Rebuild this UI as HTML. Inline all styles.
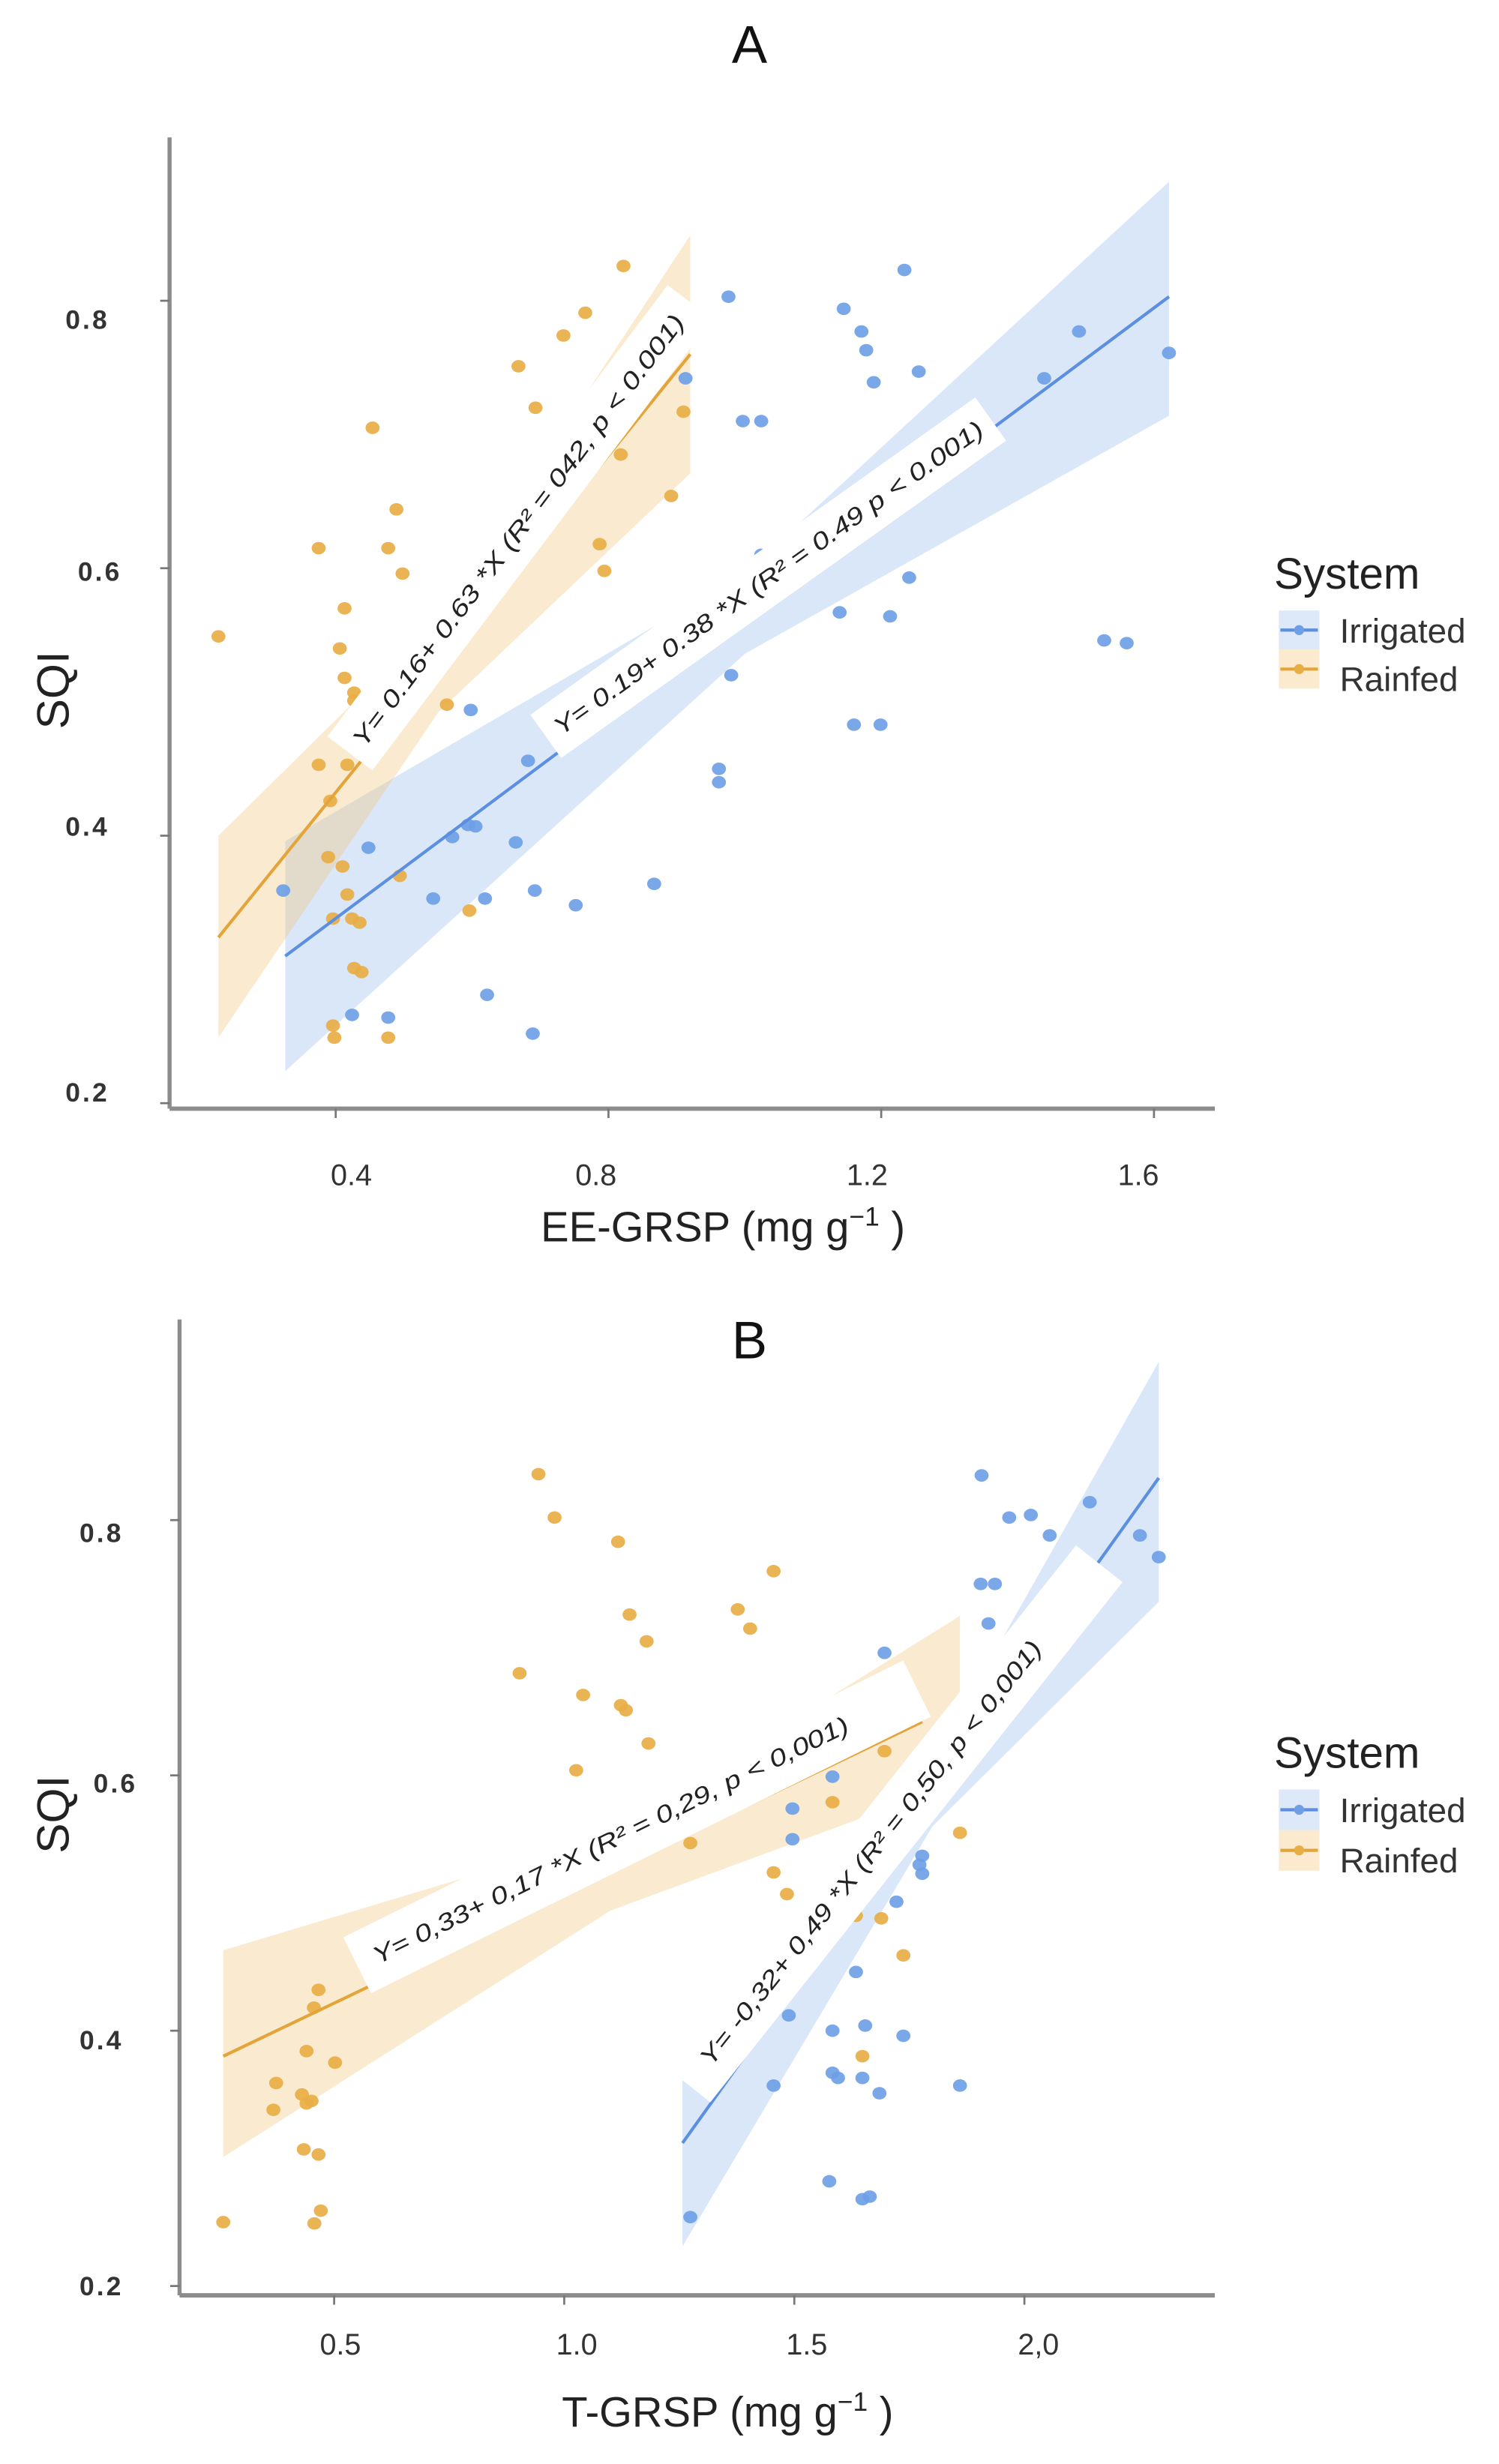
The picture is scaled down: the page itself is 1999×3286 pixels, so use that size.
<!DOCTYPE html>
<html><head><meta charset="utf-8">
<style>
html,body{margin:0;padding:0;background:#fff;}
svg{display:block;}
text{font-family:"Liberation Sans",sans-serif;}
.tick{font-size:17px;font-weight:bold;fill:#333;letter-spacing:1.5px;}
.xtick{font-size:19px;fill:#333;}
.eq{font-size:15.5px;font-style:italic;fill:#222;}
</style></head>
<body>
<svg id="chart" width="1999" height="3286" viewBox="0 0 960 1578" preserveAspectRatio="none" xmlns="http://www.w3.org/2000/svg">
</svg>
<script>
// ---------- Panel A data (EE-GRSP vs SQI) ----------
var aXTicks = [0.4, 0.8, 1.2, 1.6];
var aXTickLabels = ["0.4", "0.8", "1.2", "1.6"];
var aYTicks = [0.8, 0.6, 0.4, 0.2];
var aYTickLabels = ["0.8", "0.6", "0.4", "0.2"];
var aRainX = [0.228,0.375,0.413,0.406,0.413,0.427,0.427,0.420,0.375,0.417,0.392,0.454,0.489,0.477,0.498,0.563,0.668,0.693,0.734,0.766,0.822,0.787,0.794,0.892,0.910,0.818,0.410,0.417,0.424,0.435,0.427,0.438,0.396,0.398,0.477,0.396,0.596,0.494,0.389];
var aRainY = [0.549,0.615,0.570,0.540,0.518,0.507,0.501,0.482,0.453,0.453,0.426,0.705,0.644,0.615,0.596,0.498,0.751,0.720,0.774,0.791,0.826,0.618,0.598,0.654,0.717,0.685,0.377,0.356,0.338,0.335,0.301,0.298,0.258,0.249,0.249,0.338,0.344,0.370,0.384];
var aIrrX = [0.323,0.448,0.424,0.477,0.543,0.571,0.598,0.594,0.605,0.619,0.622,0.664,0.682,0.692,0.689,0.752,0.867,0.913,0.913,0.976,0.997,1.024,1.024,0.980,0.962,0.962,1.139,1.145,1.171,1.178,1.189,1.234,1.255,1.241,1.213,1.160,1.199,1.439,1.490,1.622,1.527,1.560];
var aIrrY = [0.359,0.391,0.266,0.264,0.353,0.399,0.494,0.408,0.407,0.353,0.281,0.395,0.456,0.359,0.252,0.348,0.364,0.791,0.742,0.803,0.710,0.710,0.610,0.520,0.450,0.440,0.567,0.794,0.777,0.763,0.739,0.823,0.747,0.593,0.564,0.483,0.483,0.742,0.777,0.761,0.546,0.544];
var aRainFitX = [0.228, 0.92];
var aRainFitY = [0.324, 0.760];
var aRainBandX = [0.228, 0.55, 0.92];
var aRainBandLo = [0.249, 0.492, 0.671];
var aRainBandHi = [0.400, 0.562, 0.849];
var aIrrFitX = [0.326, 1.622];
var aIrrFitY = [0.310, 0.803];
var aIrrBandX = [0.326, 1.0, 1.622];
var aIrrBandLo = [0.224, 0.536, 0.714];
var aIrrBandHi = [0.396, 0.596, 0.889];

// ---------- Panel B data (T-GRSP vs SQI) ----------
var bXTicks = [0.5, 1.0, 1.5, 2.0];
var bXTickLabels = ["0.5", "1.0", "1.5", "2,0"];
var bYTicks = [0.8, 0.6, 0.4, 0.2];
var bYTickLabels = ["0.8", "0.6", "0.4", "0.2"];
var bRainX = [0.259,0.374,0.368,0.440,0.466,0.456,0.502,0.430,0.451,0.440,0.434,0.466,0.471,0.457,0.944,0.979,0.903,1.026,1.041,1.117,1.123,1.134,1.142,1.179,1.183,1.377,1.404,1.455,1.274,1.455,1.484,1.583,1.696,1.634,1.689,1.737,1.648,1.860];
var bRainY = [0.250,0.359,0.338,0.384,0.432,0.418,0.375,0.350,0.345,0.343,0.307,0.303,0.259,0.249,0.836,0.802,0.680,0.604,0.663,0.783,0.655,0.651,0.726,0.705,0.625,0.730,0.715,0.760,0.547,0.524,0.507,0.579,0.619,0.490,0.488,0.459,0.380,0.555];
var bIrrX = [1.274,1.455,1.488,1.496,1.496,1.583,1.583,1.583,1.595,1.576,1.634,1.648,1.664,1.654,1.648,1.685,1.722,1.737,1.696,1.751,1.772,1.778,1.778,1.860,1.907,1.905,1.936,1.922,1.967,2.014,2.055,2.142,2.158,2.251,2.292];
var bIrrY = [0.254,0.357,0.412,0.574,0.550,0.599,0.400,0.367,0.363,0.282,0.446,0.268,0.270,0.404,0.363,0.351,0.501,0.396,0.696,0.552,0.530,0.523,0.537,0.357,0.835,0.750,0.750,0.719,0.802,0.804,0.788,0.814,0.749,0.788,0.771];
var bRainFitX = [0.259, 1.778];
var bRainFitY = [0.380, 0.642];
var bRainBandX = [0.259, 1.1, 1.86];
var bRainBandLo = [0.301, 0.494, 0.595];
var bRainBandHi = [0.463, 0.554, 0.725];
var bIrrFitX = [1.257, 2.292];
var bIrrFitY = [0.312, 0.833];
var bIrrBandX = [1.257, 1.8, 2.292];
var bIrrBandLo = [0.231, 0.560, 0.736];
var bIrrBandHi = [0.390, 0.610, 0.924];

var NS = "http://www.w3.org/2000/svg";
var svg = document.getElementById("chart");
function mk(tag, attrs, parent) {
  var e = document.createElementNS(NS, tag);
  for (var k in attrs) e.setAttribute(k, attrs[k]);
  (parent || svg).appendChild(e);
  return e;
}
var ORANGE = "#E8AE45", BLUE = "#6E9FE6";
var ORANGE_LINE = "#E3A53A", BLUE_LINE = "#5C8FE0";
var ORANGE_BAND = "rgba(242,200,130,0.38)", BLUE_BAND = "rgba(160,195,240,0.40)";

function drawPanel(p) {
  var g = mk("g", {});
  
  
  function sx(v) { return p.x0 + (v - p.xv0) * p.xk; }
  function sy(v) { return p.y0 - (v - p.yv0) * p.yk; }
  function band(bx, lo, hi, fill, nm) {
    var pts = [];
    for (var i = 0; i < bx.length; i++) pts.push(sx(bx[i]) + "," + sy(hi[i]));
    for (var j = bx.length - 1; j >= 0; j--) pts.push(sx(bx[j]) + "," + sy(lo[j]));
    var e = mk("polygon", { points: pts.join(" "), fill: fill }, g);
    
    
  }
  band(p.irrBandX, p.irrBandLo, p.irrBandHi, BLUE_BAND, "irrigated-confidence-band");
  band(p.rainBandX, p.rainBandLo, p.rainBandHi, ORANGE_BAND, "rainfed-confidence-band");
  function pts(xs, ys, col, nm) {
    for (var i = 0; i < xs.length; i++) {
      var c = mk("ellipse", { cx: sx(xs[i]), cy: sy(ys[i]), rx: 4.5, ry: 4, fill: col, opacity: 0.92 }, g);
      
      
    }
  }
  pts(p.rainX, p.rainY, ORANGE, "rainfed-point");
  pts(p.irrX, p.irrY, BLUE, "irrigated-point");
  function fit(fx, fy, col, nm) {
    var l = mk("line", { x1: sx(fx[0]), y1: sy(fy[0]), x2: sx(fx[1]), y2: sy(fy[1]), stroke: col, "stroke-width": 2 }, g);
    
    
  }
  fit(p.rainFitX, p.rainFitY, ORANGE_LINE, "rainfed-regression-line");
  fit(p.irrFitX, p.irrFitY, BLUE_LINE, "irrigated-regression-line");
  p.labels.forEach(function (L) {
    var lg = mk("g", { transform: "translate(" + L.cx + "," + L.cy + ") rotate(" + L.ang + ")" }, g);
    
    
    mk("rect", { x: -L.len / 2, y: -L.h / 2, width: L.len, height: L.h, fill: "#fff" }, lg);
    var t = mk("text", { x: -L.len / 2 + L.pad, y: 5.5, "class": "eq", textLength: L.tl, lengthAdjust: "spacingAndGlyphs" }, lg);
    t.textContent = L.text;
  });
  var ax = mk("line", { x1: p.x0axis, y1: p.top, x2: p.x0axis, y2: p.yaxis, stroke: "#8c8c8c", "stroke-width": 2.6 }, g);
  
  
  var axx = mk("line", { x1: p.x0axis, y1: p.yaxis, x2: p.right, y2: p.yaxis, stroke: "#8c8c8c", "stroke-width": 2.8 }, g);
  
  
  for (var i = 0; i < p.xTicks.length; i++) {
    var xx = sx(p.xTicks[i]);
    mk("line", { x1: xx, y1: p.yaxis, x2: xx, y2: p.yaxis + 6, stroke: "#777", "stroke-width": 1.3 }, g);
    var t = mk("text", { x: xx + p.xLabOff[i], y: p.xLabY, "text-anchor": "middle", "class": "xtick" }, g);
    
    
    t.textContent = p.xTickLabels[i];
  }
  for (var j = 0; j < p.yTicks.length; j++) {
    var yy = sy(p.yTicks[j]);
    mk("line", { x1: p.x0axis - 6, y1: yy, x2: p.x0axis, y2: yy, stroke: "#777", "stroke-width": 1.3 }, g);
    var ty = mk("text", { x: p.yLabX[j], y: yy + p.yLabOff[j], "text-anchor": "end", "class": "tick" }, g);
    
    
    ty.textContent = p.yTickLabels[j];
  }
  var ti = mk("text", { x: 480, y: p.titleY, "text-anchor": "middle", "font-size": 34, fill: "#111" }, g);
  
  
  ti.textContent = p.title;
  var xt = mk("text", { x: p.xTitleX, y: p.xTitleY, "text-anchor": "middle", "font-size": 27, fill: "#222" }, g);
  
  
  xt.innerHTML = p.xTitle + ' (mg g<tspan dy="-10" font-size="17">−1</tspan><tspan dy="10"> )</tspan>';
  var yt = mk("text", { x: 0, y: 0, transform: "translate(" + 44 + "," + p.sqiY + ") rotate(-90)", "text-anchor": "middle", "font-size": 29, fill: "#222" }, g);
  
  
  yt.textContent = "SQI";
  var lg = mk("g", {}, g);
  
  
  var st = mk("text", { x: 816, y: p.legY, "font-size": 28, fill: "#222" }, lg);
  st.textContent = "System";
  var k1 = p.legY + 14, k2 = k1 + p.keyH;
  mk("rect", { x: 819, y: k1, width: 26, height: p.keyH, fill: "#dde8f8" }, lg);
  mk("line", { x1: 820, y1: k1 + p.keyH / 2, x2: 844, y2: k1 + p.keyH / 2, stroke: BLUE_LINE, "stroke-width": 2 }, lg);
  mk("circle", { cx: 832, cy: k1 + p.keyH / 2, r: 3.2, fill: BLUE }, lg);
  mk("rect", { x: 819, y: k2, width: 26, height: p.keyH, fill: "#fbeacd" }, lg);
  mk("line", { x1: 820, y1: k2 + p.keyH / 2, x2: 844, y2: k2 + p.keyH / 2, stroke: ORANGE_LINE, "stroke-width": 2 }, lg);
  mk("circle", { cx: 832, cy: k2 + p.keyH / 2, r: 3.2, fill: ORANGE }, lg);
  var e1 = mk("text", { x: 858, y: k1 + p.keyH / 2 + 8, "font-size": 22, fill: "#333" }, lg);
  
  
  e1.textContent = "Irrigated";
  var e2 = mk("text", { x: 858, y: k2 + p.keyH / 2 + 14, "font-size": 22, fill: "#333" }, lg);
  
  
  e2.textContent = "Rainfed";
}

drawPanel({
  name: "panel-a", title: "A", titleY: 40,
  x0: 215, xv0: 0.4, xk: 436.7, y0: 706.5, yv0: 0.2, yk: 856.5,
  x0axis: 108.6, top: 88, yaxis: 710, right: 778,
  xTicks: aXTicks, xTickLabels: aXTickLabels, xLabOff: [10, -8, -9, -10], xLabY: 759,
  yTicks: aYTicks, yTickLabels: aYTickLabels, yLabX: [70, 78, 70, 70], yLabOff: [18, 8, 0, -1],
  xTitle: "EE-GRSP", xTitleX: 463, xTitleY: 795, sqiY: 442,
  legY: 377, keyH: 25,
  rainX: aRainX, rainY: aRainY, irrX: aIrrX, irrY: aIrrY,
  rainFitX: aRainFitX, rainFitY: aRainFitY, rainBandX: aRainBandX, rainBandLo: aRainBandLo, rainBandHi: aRainBandHi,
  irrFitX: aIrrFitX, irrFitY: aIrrFitY, irrBandX: aIrrBandX, irrBandLo: aIrrBandLo, irrBandHi: aIrrBandHi,
  labels: [
    { name: "rainfed-equation-label", cx: 333, cy: 338, ang: -53, len: 362, h: 36, pad: 8, tl: 342, text: "Y= 0.16+ 0.63 *X (R² = 042, p < 0.001)" },
    { name: "irrigated-equation-label", cx: 492, cy: 370, ang: -35.5, len: 350, h: 34, pad: 8, tl: 334, text: "Y= 0.19+ 0.38 *X (R² = 0.49 p < 0.001)" }
  ]
});

drawPanel({
  name: "panel-b", title: "B", titleY: 870,
  x0: 214, xv0: 0.5, xk: 294.7, y0: 1464, yv0: 0.2, yk: 817.5,
  x0axis: 115, top: 845, yaxis: 1470, right: 778,
  xTicks: bXTicks, xTickLabels: bXTickLabels, xLabOff: [4, 8, 8, 9], xLabY: 1508,
  yTicks: bYTicks, yTickLabels: bYTickLabels, yLabX: [79, 88, 79, 79], yLabOff: [14, 11, 12, 6],
  xTitle: "T-GRSP", xTitleX: 466, xTitleY: 1554, sqiY: 1162,
  legY: 1132, keyH: 26,
  rainX: bRainX, rainY: bRainY, irrX: bIrrX, irrY: bIrrY,
  rainFitX: bRainFitX, rainFitY: bRainFitY, rainBandX: bRainBandX, rainBandLo: bRainBandLo, rainBandHi: bRainBandHi,
  irrFitX: bIrrFitX, irrFitY: bIrrFitY, irrBandX: bIrrBandX, irrBandLo: bIrrBandLo, irrBandHi: bIrrBandHi,
  labels: [
    { name: "rainfed-equation-label", cx: 408, cy: 1170, ang: -26.3, len: 400, h: 40, pad: 12, tl: 338, text: "Y= 0,33+ 0,17 *X (R² = 0,29, p < 0,001)" },
    { name: "irrigated-equation-label", cx: 572, cy: 1168, ang: -51.6, len: 425, h: 38, pad: 18, tl: 342, text: "Y= -0,32+ 0,49 *X (R² = 0,50, p < 0,001)" }
  ]
});
</script>
</body></html>
